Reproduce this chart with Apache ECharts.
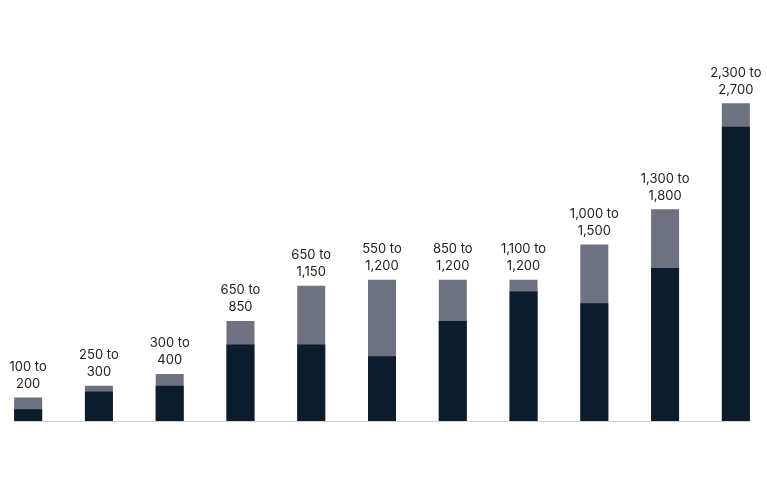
<!DOCTYPE html>
<html>
<head>
<meta charset="utf-8">
<script src="https://cdn.jsdelivr.net/npm/echarts@6/dist/echarts.min.js"></script>
</head>
<body style="margin:0">
<div id="chart" style="width:767px;height:480px"></div>
<script>
var lows = [100, 250, 300, 650, 650, 550, 850, 1100, 1000, 1300, 2500];
var highs = [200, 300, 400, 850, 1150, 1200, 1200, 1200, 1500, 1800, 2700];
var labels = ['100 to\n200', '250 to\n300', '300 to\n400', '650 to\n850', '650 to\n1,150',
  '550 to\n1,200', '850 to\n1,200', '1,100 to\n1,200', '1,000 to\n1,500', '1,300 to\n1,800', '2,300 to\n2,700'];

var chart = echarts.init(document.getElementById('chart'));
chart.setOption({
  animation: false,
  grid: {left: 14, right: 17, top: 68, bottom: 59},
  xAxis: {
    type: 'value', min: -0.2, max: 10.2,
    splitLine: {show: false}, axisTick: {show: false}, axisLabel: {show: false},
    axisLine: {show: true, onZero: false, lineStyle: {color: '#cfcfcf'}}
  },
  yAxis: {type: 'value', min: 0, max: 3000, show: false, splitLine: {show: false}},
  series: [{
    type: 'bar', barWidth: 28, barGap: '-100%', z: 2,
    itemStyle: {color: '#6e717f'},
    label: {
      show: true, position: 'top', distance: 5, color: '#222',
      fontFamily: 'Inter', fontSize: 13, lineHeight: 17,
      formatter: function (p) { return labels[p.dataIndex]; }
    },
    data: highs.map(function (v, i) { return [i, v]; })
  }, {
    type: 'bar', barWidth: 28, barGap: '-100%', z: 3,
    itemStyle: {color: '#0c1c2c'},
    data: lows.map(function (v, i) { return [i, v]; })
  }]
});
</script>
</body>
</html>
